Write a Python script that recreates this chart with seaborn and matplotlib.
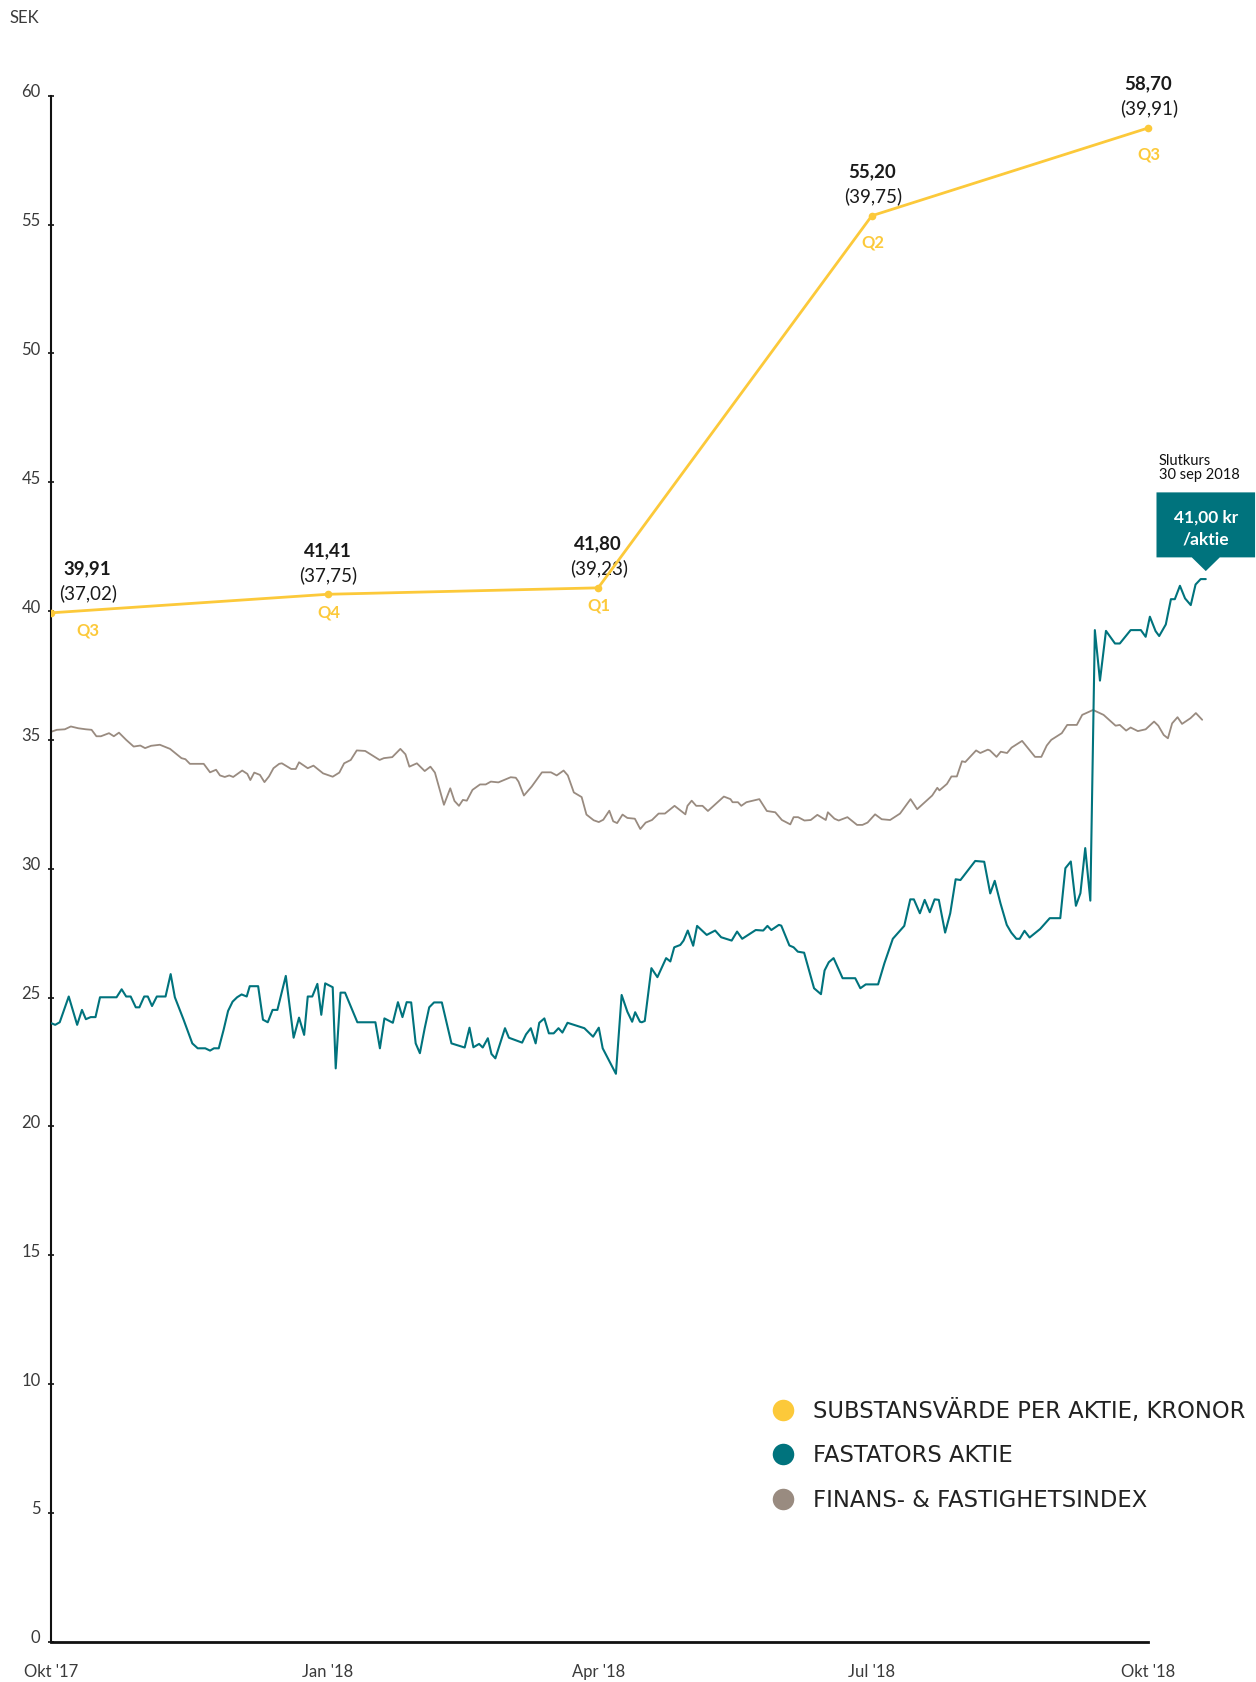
import pandas as pd
import matplotlib
matplotlib.use("Agg")
import matplotlib.pyplot as plt
import matplotlib.dates as mdates
from matplotlib.lines import Line2D
from matplotlib.patches import Polygon
from matplotlib.transforms import ScaledTranslation
import seaborn as sns

# Färger
GUL = "#FCC93A"
TEAL = "#00737D"
GRA = "#998B80"

START = pd.Timestamp("2017-10-01")

# Substansvärde per aktie (kvartal)
nav_dagar = [0, 92, 182, 273, 365]
nav_varde = [39.93, 40.65, 40.9, 55.34, 58.75]
nav_text = ["39,91", "41,41", "41,80", "55,20", "58,70"]
nav_parentes = ["(37,02)", "(37,75)", "(39,23)", "(39,75)", "(39,91)"]
nav_kvartal = ["Q3", "Q4", "Q1", "Q2", "Q3"]

# Fastators aktie (dagar från 1 okt 2017)
aktie_dagar = [0.2, 1.4, 2.9, 5.9, 8.7, 10.3, 11.6, 13.2, 14.8, 16.3, 21.8, 23.5, 25.0, 26.5, 28.2,
               29.4, 31.0, 32.2, 33.6, 35.2, 38.1, 39.8, 41.2, 44.1, 47.0, 48.8, 51.3, 52.9, 54.2, 55.8,
               57.4, 58.9, 60.4, 61.9, 63.4, 65.1, 66.1, 68.9, 70.5, 72.1, 73.7, 75.3, 78.1, 80.7, 82.5,
               84.2, 85.4, 86.9, 88.6, 89.9, 91.2, 93.7, 94.7, 96.3, 97.8, 101.9, 107.9, 109.4, 110.9, 113.7,
               115.4, 116.9, 118.3, 119.8, 121.3, 122.7, 124.3, 125.8, 127.4, 130.0, 133.2, 137.6, 139.2, 140.5, 142.4,
               143.6, 145.3, 146.5, 147.8, 151.0, 152.3, 156.7, 158.0, 159.6, 161.2, 162.4, 164.1, 165.6, 167.2, 168.8,
               170.1, 171.8, 177.4, 180.3, 182.2, 183.5, 187.9, 189.8, 191.7, 193.3, 194.3, 195.9, 196.5, 197.5, 199.7,
               201.7, 204.6, 206.0, 207.3, 209.3, 210.4, 211.8, 213.6, 214.9, 218.1, 220.9, 222.9, 226.4, 228.2, 229.9,
               234.4, 236.9, 238.3, 239.6, 242.1, 242.9, 245.6, 247.0, 248.4, 250.5, 253.8, 256.1, 257.3, 258.7, 260.3,
               263.3, 267.5, 269.2, 271.0, 275.1, 277.2, 280.0, 283.8, 285.8, 287.0, 289.0, 290.6, 292.3, 293.9, 295.3,
               297.4, 299.1, 300.9, 302.5, 307.4, 310.4, 312.4, 313.9, 315.8, 317.9, 319.4, 321.1, 322.2, 323.8, 325.5,
               329.0, 332.2, 335.7, 337.4, 339.2, 340.9, 342.4, 344.0, 345.7, 347.2, 348.9, 350.9, 353.9, 355.5, 359.1,
               362.5, 364.1, 365.5, 367.4, 368.6, 370.8, 372.5, 373.8, 375.5, 377.2, 379.1, 380.7, 382.4, 384.1]
aktie_kurs = [24.0, 23.94, 24.04, 25.04, 23.94, 24.52, 24.16, 24.24, 24.24, 25.01, 25.01, 25.32, 25.04, 25.04, 24.62,
              24.62, 25.04, 25.04, 24.67, 25.04, 25.04, 25.91, 25.01, 24.14, 23.22, 23.03, 23.03, 22.94, 23.03, 23.03,
              23.74, 24.48, 24.84, 25.01, 25.12, 25.04, 25.44, 25.44, 24.14, 24.04, 24.52, 24.52, 25.84, 23.44, 24.22,
              23.55, 25.04, 25.04, 25.53, 24.33, 25.55, 25.4, 22.25, 25.19, 25.19, 24.04, 24.04, 23.03, 24.19, 24.02,
              24.82, 24.24, 24.82, 24.81, 23.22, 22.84, 23.81, 24.62, 24.81, 24.81, 23.22, 23.06, 23.83, 23.07, 23.2,
              23.06, 23.42, 22.81, 22.64, 23.81, 23.44, 23.25, 23.57, 23.81, 23.22, 24.02, 24.19, 23.61, 23.61, 23.81,
              23.64, 24.02, 23.81, 23.48, 23.83, 23.03, 22.04, 25.1, 24.45, 24.06, 24.43, 24.06, 24.04, 24.09, 26.14,
              25.79, 26.53, 26.4, 26.95, 27.04, 27.21, 27.6, 27.01, 27.78, 27.43, 27.6, 27.34, 27.21, 27.56, 27.28,
              27.62, 27.6, 27.78, 27.62, 27.82, 27.79, 27.02, 26.95, 26.78, 26.74, 25.36, 25.13, 26.05, 26.37, 26.53,
              25.75, 25.75, 25.36, 25.51, 25.51, 26.33, 27.28, 27.78, 28.81, 28.81, 28.27, 28.79, 28.31, 28.81, 28.79,
              27.52, 28.27, 29.59, 29.56, 30.3, 30.27, 29.04, 29.53, 28.66, 27.82, 27.52, 27.28, 27.28, 27.59, 27.33,
              27.66, 28.08, 28.08, 30.02, 30.28, 28.56, 29.05, 30.8, 28.76, 39.26, 37.3, 39.23, 38.74, 38.74, 39.26,
              39.26, 39.0, 39.78, 39.22, 39.03, 39.48, 40.46, 40.46, 40.98, 40.49, 40.23, 41.03, 41.24, 41.24]

# Finans- & fastighetsindex
index_dagar = [0.2, 1.95, 4.6, 6.6, 9.1, 11.6, 13.5, 15.1, 16.6, 19.3, 20.9, 22.6, 25.0, 27.5, 29.7,
               31.3, 33.3, 36.2, 39.6, 43.4, 44.7, 46.2, 49.8, 50.8, 52.9, 54.9, 56.2, 57.8, 59.3, 60.6,
               63.6, 65.3, 66.3, 67.6, 69.5, 71.0, 72.5, 74.0, 75.9, 76.8, 79.9, 81.4, 82.5, 85.4, 87.3,
               90.5, 93.7, 95.9, 97.5, 99.7, 101.7, 104.5, 109.3, 110.7, 113.5, 116.2, 117.9, 119.2, 121.7, 124.3,
               126.2, 127.7, 130.7, 132.8, 134.2, 135.7, 137.0, 138.3, 140.2, 142.7, 144.6, 146.3, 148.8, 152.9, 154.6,
               155.5, 157.3, 159.9, 163.3, 166.3, 168.2, 170.5, 171.9, 173.9, 176.5, 178.1, 180.5, 182.2, 183.7, 185.7,
               187.0, 188.3, 190.1, 191.7, 194.2, 196.0, 197.8, 199.9, 202.1, 204.2, 207.4, 211.0, 211.7, 213.1, 214.6,
               216.7, 218.5, 223.8, 226.0, 226.7, 228.5, 229.6, 231.3, 235.6, 238.1, 240.9, 243.1, 245.9, 247.0, 248.5,
               250.6, 252.7, 254.9, 257.7, 258.4, 260.6, 262.0, 264.9, 268.1, 269.9, 271.6, 274.1, 276.3, 279.1, 282.4,
               285.9, 288.1, 293.1, 294.8, 295.5, 298.0, 299.5, 301.3, 303.0, 304.1, 307.7, 309.1, 311.6, 312.3, 314.5,
               315.9, 318.0, 319.5, 323.0, 327.3, 329.4, 331.2, 332.7, 336.2, 338.0, 341.2, 343.0, 346.6, 350.1, 354.1,
               355.5, 357.6, 359.1, 361.5, 364.1, 366.9, 368.3, 370.1, 371.5, 372.9, 374.7, 376.2, 379.0, 380.8, 382.9]
index_varde = [35.32, 35.39, 35.41, 35.52, 35.45, 35.41, 35.39, 35.14, 35.14, 35.26, 35.14, 35.28, 35.0, 34.74, 34.78,
               34.68, 34.77, 34.81, 34.65, 34.29, 34.25, 34.07, 34.07, 34.07, 33.74, 33.84, 33.62, 33.56, 33.62, 33.56,
               33.81, 33.68, 33.44, 33.73, 33.64, 33.36, 33.58, 33.9, 34.07, 34.09, 33.87, 33.87, 34.13, 33.9, 34.0,
               33.7, 33.57, 33.73, 34.09, 34.22, 34.59, 34.57, 34.22, 34.29, 34.33, 34.65, 34.44, 33.96, 34.09, 33.79,
               33.96, 33.73, 32.48, 33.12, 32.63, 32.44, 32.67, 32.64, 33.06, 33.27, 33.27, 33.38, 33.35, 33.55, 33.53,
               33.38, 32.84, 33.19, 33.74, 33.74, 33.62, 33.81, 33.62, 32.96, 32.78, 32.1, 31.88, 31.81, 31.9, 32.25,
               31.84, 31.77, 32.1, 31.97, 31.94, 31.54, 31.79, 31.89, 32.14, 32.14, 32.44, 32.11, 32.44, 32.64, 32.44,
               32.44, 32.24, 32.8, 32.7, 32.58, 32.58, 32.44, 32.58, 32.7, 32.24, 32.19, 31.89, 31.72, 32.0, 32.0,
               31.87, 31.89, 32.09, 31.89, 32.19, 31.94, 31.87, 32.0, 31.7, 31.7, 31.79, 32.11, 31.92, 31.89, 32.14,
               32.7, 32.31, 32.84, 33.14, 33.04, 33.29, 33.58, 33.58, 34.17, 34.14, 34.59, 34.49, 34.62, 34.59, 34.34,
               34.54, 34.49, 34.7, 34.96, 34.34, 34.34, 34.78, 35.0, 35.26, 35.58, 35.58, 35.97, 36.16, 35.97, 35.55,
               35.58, 35.36, 35.48, 35.34, 35.41, 35.71, 35.55, 35.19, 35.06, 35.64, 35.88, 35.62, 35.84, 36.04, 35.78]

x_tick_dagar = [0, 92, 182, 273, 365]
x_tick_text = ["Okt '17", "Jan '18", "Apr '18", "Jul '18", "Okt '18"]
y_ticks = list(range(0, 61, 5))


def till_datum(dagar):
    return START + pd.to_timedelta(dagar, unit="D")


sns.set_theme(style="white")
plt.rcParams["font.family"] = ["Lato", "DejaVu Sans"]

fig = plt.figure(figsize=(12.56, 16.82), dpi=100)
ax = fig.add_axes([51 / 1256, 40.3 / 1682, 1159 / 1256, 1546 / 1682])

sns.lineplot(x=till_datum(index_dagar), y=index_varde, ax=ax, color=GRA, linewidth=1.3, zorder=2)
sns.lineplot(x=till_datum(aktie_dagar), y=aktie_kurs, ax=ax, color=TEAL, linewidth=1.5, zorder=3)
sns.lineplot(x=till_datum(nav_dagar), y=nav_varde, ax=ax, color=GUL, linewidth=2.0,
             marker="o", markersize=5.5, markeredgewidth=0, zorder=4)

# Etiketter vid substansvärdet
for i, (d, v) in enumerate(zip(nav_dagar, nav_varde)):
    x = till_datum([d])[0]
    dx = 36 if i == 0 else 0
    dq = 18 if i < 3 else 27
    ax.annotate(nav_text[i], (x, v), xytext=(dx, 44), textcoords="offset pixels",
                ha="center", va="center", fontsize=13.5, fontweight="bold", color="#1a1a1a",
                annotation_clip=False)
    ax.annotate(nav_parentes[i], (x, v), xytext=(dx + 1, 19.5), textcoords="offset pixels",
                ha="center", va="center", fontsize=13.5, color="#1a1a1a", annotation_clip=False)
    ax.annotate(nav_kvartal[i], (x, v), xytext=(dx + 1, -dq), textcoords="offset pixels",
                ha="center", va="center", fontsize=12, fontweight="bold", color=GUL,
                annotation_clip=False)

# Slutkurs-ruta
sista_x = till_datum([aktie_dagar[-1]])[0]
sista_y = aktie_kurs[-1]
ank = fig.dpi_scale_trans + ScaledTranslation(mdates.date2num(sista_x), sista_y, ax.transData)
ruta = Polygon([(0, 0.08), (0.14, 0.217), (0.493, 0.217), (0.493, 0.867), (-0.493, 0.867),
                (-0.493, 0.217), (-0.14, 0.217)], closed=True, facecolor=TEAL, edgecolor="none",
               transform=ank, clip_on=False, zorder=6)
ax.add_patch(ruta)
ax.annotate("41,00 kr", (sista_x, sista_y), xytext=(0, 61.7), textcoords="offset pixels",
            ha="center", va="center", fontsize=12.5, fontweight="bold", color="white",
            annotation_clip=False, zorder=7)
ax.annotate("/aktie", (sista_x, sista_y), xytext=(0, 39.7), textcoords="offset pixels",
            ha="center", va="center", fontsize=12.5, fontweight="bold", color="white",
            annotation_clip=False, zorder=7)
ax.annotate("Slutkurs", (sista_x, sista_y), xytext=(-47, 118), textcoords="offset pixels",
            ha="left", va="center", fontsize=10.5, color="#111111", annotation_clip=False)
ax.annotate("30 sep 2018", (sista_x, sista_y), xytext=(-47, 104), textcoords="offset pixels",
            ha="left", va="center", fontsize=10.5, color="#111111", annotation_clip=False)

# Axlar
ax.set_ylim(0, 60)
ax.set_xlim(START, till_datum([385.5])[0])
ax.set_yticks(y_ticks)
ax.set_yticklabels([str(t) for t in y_ticks])
ax.set_xticks(till_datum(x_tick_dagar))
ax.set_xticklabels(x_tick_text)
ax.set_xlabel("")
ax.set_ylabel("")
ax.grid(False)
for s in ["top", "right"]:
    ax.spines[s].set_visible(False)
ax.spines["left"].set_color("#111111")
ax.spines["left"].set_linewidth(1.5)
ax.spines["bottom"].set_color("#111111")
ax.spines["bottom"].set_linewidth(2.0)
ax.spines["bottom"].set_bounds(mdates.date2num(START), mdates.date2num(till_datum([365])[0]))
ax.tick_params(axis="y", direction="inout", length=5, width=1.2, color="#111111",
               labelsize=12, labelcolor="#3a3a3a", pad=5, left=True)
ax.tick_params(axis="x", length=0, pad=16, labelsize=12, labelcolor="#3a3a3a")
# siffrorna på y-axeln sitter lite ovanför strecken
lyft = ScaledTranslation(0, 5 / 100, fig.dpi_scale_trans)
for lbl in ax.get_yticklabels():
    lbl.set_transform(lbl.get_transform() + lyft)

fig.text(10 / 1256, 1 - 18 / 1682, "SEK", ha="left", va="center", fontsize=12, color="#3a3a3a")

handles = [
    Line2D([], [], marker="o", linestyle="", markersize=15.5, markeredgewidth=0, color=GUL),
    Line2D([], [], marker="o", linestyle="", markersize=15.5, markeredgewidth=0, color=TEAL),
    Line2D([], [], marker="o", linestyle="", markersize=15.5, markeredgewidth=0, color=GRA),
]
labels = ["SUBSTANSVÄRDE PER AKTIE, KRONOR", "FASTATORS AKTIE", "FINANS- & FASTIGHETSINDEX"]
leg = ax.legend(handles, labels, loc="upper left", bbox_to_anchor=(772 / 1256, 1 - 1399 / 1682),
                bbox_transform=fig.transFigure, frameon=False, handlelength=0.95,
                handletextpad=0.85, labelspacing=0.94, borderpad=0, borderaxespad=0,
                prop={"family": "DejaVu Sans", "size": 16.3})
for t in leg.get_texts():
    t.set_color("#222222")

fig.savefig("out.png", dpi=100)
